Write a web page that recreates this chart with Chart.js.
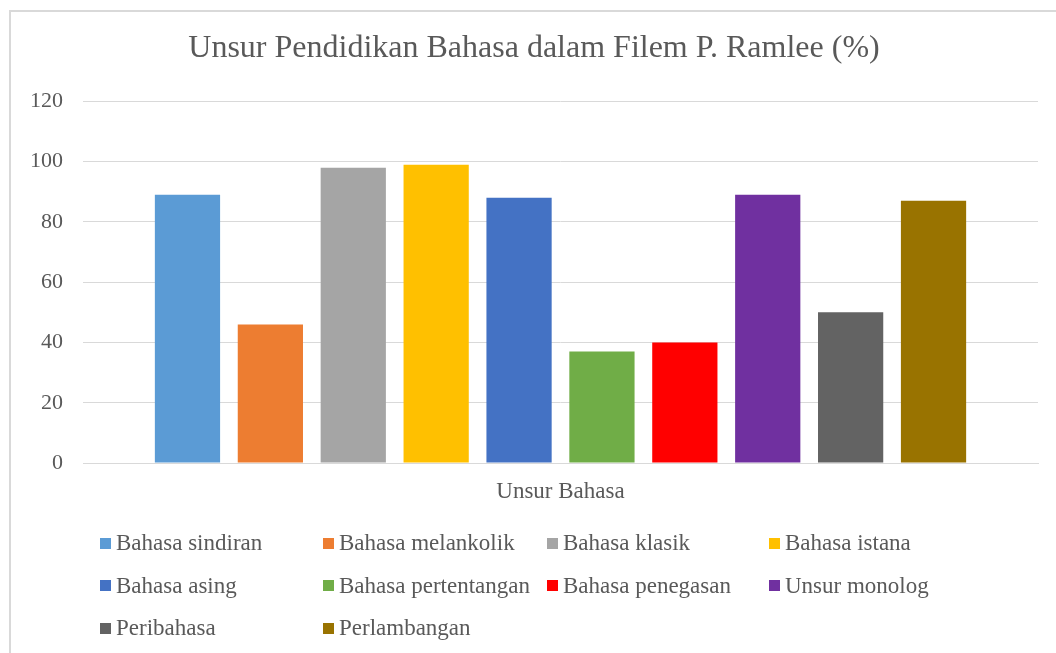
<!DOCTYPE html>
<html>
<head>
<meta charset="utf-8">
<title>Unsur Pendidikan Bahasa</title>
<script src="https://cdn.jsdelivr.net/npm/chart.js@4.4.1/dist/chart.umd.min.js"></script>
<style>
  html, body { margin: 0; padding: 0; background: #fff; }
  #wrap { position: relative; width: 1056px; height: 653px; overflow: hidden; }
  #frame { position: absolute; left: 9px; top: 10px; right: -10px; bottom: -10px;
           border-left: 2px solid #d9d9d9; border-top: 2px solid #d9d9d9; }
  canvas { position: absolute; left: 0; top: 0; }
  #legend { position: absolute; left: 100px; top: 529px; width: 950px;
            display: grid; grid-template-columns: 223px 224px 222px 223px;
            grid-auto-rows: 42.5px;
            font-family: "Liberation Serif", Tinos, "Times New Roman", "DejaVu Serif", serif;
            font-size: 23px; color: #595959; }
  .item { display: flex; align-items: center; height: 28px; white-space: nowrap; }
  .box { width: 11px; height: 11px; margin-right: 5px; flex: none; }
</style>
</head>
<body>
<div id="wrap">
  <div id="frame"></div>
  <canvas id="chart" width="1056" height="653"></canvas>
  <div id="legend"></div>
</div>
<script>
// chart data
const categories = ['Unsur Bahasa'];
const seriesNames = [
  'Bahasa sindiran', 'Bahasa melankolik', 'Bahasa klasik', 'Bahasa istana',
  'Bahasa asing', 'Bahasa pertentangan', 'Bahasa penegasan', 'Unsur monolog',
  'Peribahasa', 'Perlambangan'
];
const seriesValues = [89, 46, 98, 99, 88, 37, 40, 89, 50, 87];
const seriesColors = [
  '#5B9BD5', '#ED7D31', '#A5A5A5', '#FFC000', '#4472C4',
  '#70AD47', '#FF0000', '#7030A0', '#636363', '#997300'
];
const yTicks = [0, 20, 40, 60, 80, 100, 120];

const serif = '"Liberation Serif", Tinos, "Times New Roman", "DejaVu Serif", serif';
const textColor = '#595959';
const gridColor = '#d9d9d9';

const datasets = seriesNames.map((name, i) => ({
  label: name,
  data: [seriesValues[i]],
  backgroundColor: seriesColors[i],
  borderWidth: 0,
  categoryPercentage: 0.868,
  barPercentage: 0.787
}));

const chart = new Chart(document.getElementById('chart'), {
  type: 'bar',
  data: { labels: categories, datasets: datasets },
  options: {
    responsive: false,
    animation: false,
    layout: { padding: { top: 29, left: 30, right: 18, bottom: 148 } },
    plugins: {
      legend: { display: false },
      tooltip: { enabled: false },
      title: {
        display: true,
        text: 'Unsur Pendidikan Bahasa dalam Filem P. Ramlee (%)',
        color: textColor,
        font: { family: serif, size: 32, weight: 'normal' },
        padding: { top: 0, bottom: 34 }
      }
    },
    scales: {
      y: {
        min: yTicks[0],
        max: yTicks[yTicks.length - 1],
        afterBuildTicks: (axis) => { axis.ticks = yTicks.map(v => ({ value: v })); },
        afterFit: (axis) => { axis.width = 53; },
        grid: { color: gridColor, lineWidth: 1, drawTicks: false },
        border: { display: false },
        ticks: { color: textColor, padding: 20, font: { family: serif, size: 22 } }
      },
      x: {
        afterFit: (axis) => { axis.height = 42; },
        grid: { display: false, drawTicks: false },
        border: { color: gridColor, width: 1 },
        ticks: { color: textColor, padding: 15, font: { family: serif, size: 23 } }
      }
    }
  }
});

// grid-style legend built from the datasets
const legendEl = document.getElementById('legend');
legendEl.innerHTML = chart.data.datasets.map(ds =>
  `<div class="item"><span class="box" style="background:${ds.backgroundColor}"></span>${ds.label}</div>`
).join('');
</script>
</body>
</html>
